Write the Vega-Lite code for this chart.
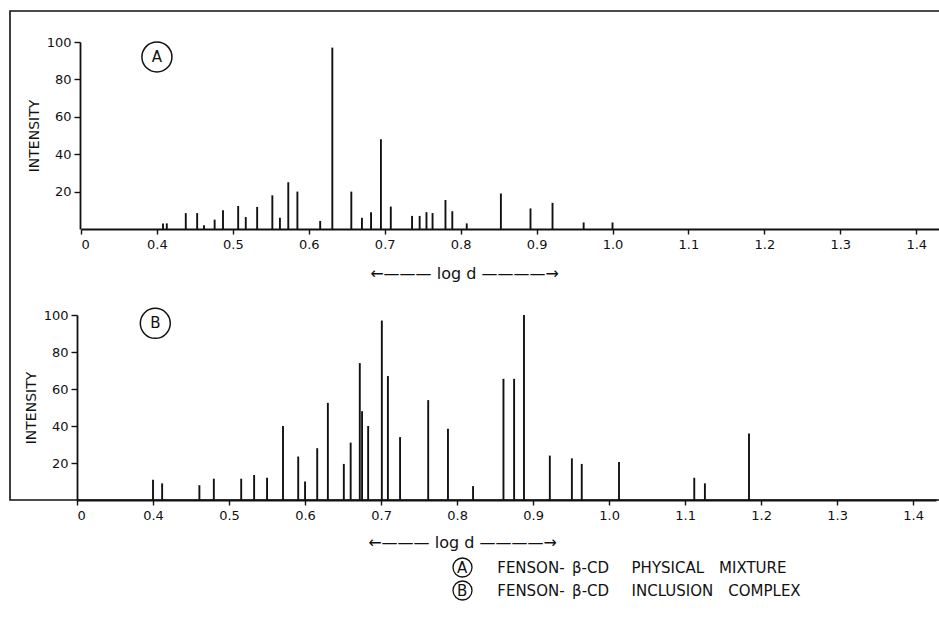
{
  "$schema": "https://vega.github.io/schema/vega-lite/v6.json",
  "width": 930,
  "height": 489,
  "autosize": {"type": "none"},
  "padding": {"left": 10, "top": 11, "right": -1, "bottom": 118},
  "background": "white",
  "config": {
    "view": {"stroke": "#111", "strokeWidth": 1.6},
    "font": "DejaVu Sans",
    "axis": {
      "grid": false,
      "domainColor": "#111",
      "domainWidth": 1.8,
      "tickColor": "#111",
      "tickWidth": 1.4,
      "labelColor": "#111",
      "titleColor": "#111",
      "labelFont": "DejaVu Sans",
      "titleFont": "DejaVu Sans",
      "titleFontWeight": "normal",
      "labelFontSize": 13,
      "titleFontSize": 14
    }
  },
  "datasets": {
    "A": [
      {"sample": "A", "logd": 0.408, "intensity": 3},
      {"sample": "A", "logd": 0.413, "intensity": 3},
      {"sample": "A", "logd": 0.438, "intensity": 8.5},
      {"sample": "A", "logd": 0.453, "intensity": 8.5},
      {"sample": "A", "logd": 0.462, "intensity": 2},
      {"sample": "A", "logd": 0.476, "intensity": 5},
      {"sample": "A", "logd": 0.487, "intensity": 10},
      {"sample": "A", "logd": 0.507, "intensity": 12.3},
      {"sample": "A", "logd": 0.517, "intensity": 6.4},
      {"sample": "A", "logd": 0.532, "intensity": 11.8},
      {"sample": "A", "logd": 0.552, "intensity": 18},
      {"sample": "A", "logd": 0.562, "intensity": 6},
      {"sample": "A", "logd": 0.573, "intensity": 25},
      {"sample": "A", "logd": 0.585, "intensity": 20},
      {"sample": "A", "logd": 0.615, "intensity": 4.3},
      {"sample": "A", "logd": 0.631, "intensity": 97},
      {"sample": "A", "logd": 0.656, "intensity": 20},
      {"sample": "A", "logd": 0.670, "intensity": 6},
      {"sample": "A", "logd": 0.682, "intensity": 9},
      {"sample": "A", "logd": 0.695, "intensity": 48},
      {"sample": "A", "logd": 0.708, "intensity": 12},
      {"sample": "A", "logd": 0.736, "intensity": 7},
      {"sample": "A", "logd": 0.746, "intensity": 7},
      {"sample": "A", "logd": 0.755, "intensity": 9},
      {"sample": "A", "logd": 0.763, "intensity": 8.5},
      {"sample": "A", "logd": 0.780, "intensity": 15.5},
      {"sample": "A", "logd": 0.789, "intensity": 9.5},
      {"sample": "A", "logd": 0.808, "intensity": 3},
      {"sample": "A", "logd": 0.853, "intensity": 19},
      {"sample": "A", "logd": 0.892, "intensity": 11},
      {"sample": "A", "logd": 0.921, "intensity": 14},
      {"sample": "A", "logd": 0.962, "intensity": 3.5},
      {"sample": "A", "logd": 1.000, "intensity": 3.5}
    ],
    "B": [
      {"sample": "B", "logd": 0.400, "intensity": 11},
      {"sample": "B", "logd": 0.412, "intensity": 9},
      {"sample": "B", "logd": 0.461, "intensity": 8},
      {"sample": "B", "logd": 0.480, "intensity": 11.5},
      {"sample": "B", "logd": 0.516, "intensity": 11.5},
      {"sample": "B", "logd": 0.533, "intensity": 13.5},
      {"sample": "B", "logd": 0.550, "intensity": 12},
      {"sample": "B", "logd": 0.571, "intensity": 40},
      {"sample": "B", "logd": 0.591, "intensity": 23.5},
      {"sample": "B", "logd": 0.600, "intensity": 10},
      {"sample": "B", "logd": 0.616, "intensity": 28},
      {"sample": "B", "logd": 0.630, "intensity": 52.5},
      {"sample": "B", "logd": 0.651, "intensity": 19.5},
      {"sample": "B", "logd": 0.660, "intensity": 31},
      {"sample": "B", "logd": 0.672, "intensity": 74},
      {"sample": "B", "logd": 0.675, "intensity": 48},
      {"sample": "B", "logd": 0.683, "intensity": 40},
      {"sample": "B", "logd": 0.701, "intensity": 97},
      {"sample": "B", "logd": 0.709, "intensity": 67},
      {"sample": "B", "logd": 0.725, "intensity": 34},
      {"sample": "B", "logd": 0.762, "intensity": 54},
      {"sample": "B", "logd": 0.788, "intensity": 38.5},
      {"sample": "B", "logd": 0.821, "intensity": 7.5},
      {"sample": "B", "logd": 0.861, "intensity": 65.5},
      {"sample": "B", "logd": 0.875, "intensity": 65.5},
      {"sample": "B", "logd": 0.888, "intensity": 100},
      {"sample": "B", "logd": 0.922, "intensity": 24},
      {"sample": "B", "logd": 0.951, "intensity": 22.5},
      {"sample": "B", "logd": 0.964, "intensity": 19.5},
      {"sample": "B", "logd": 1.013, "intensity": 20.5},
      {"sample": "B", "logd": 1.112, "intensity": 12},
      {"sample": "B", "logd": 1.126, "intensity": 9},
      {"sample": "B", "logd": 1.184, "intensity": 36}
    ]
  },
  "resolve": {
    "scale": {"x": "independent", "y": "independent"},
    "axis": {"x": "independent", "y": "independent"}
  },
  "layer": [
    {
      "layer": [
        {
          "data": {"name": "A"},
          "mark": {"type": "rule", "strokeWidth": 1.9},
          "encoding": {
            "x": {
              "field": "logd",
              "type": "quantitative",
              "scale": {"domain": [0.30, 1.43], "range": [71, 929], "zero": false, "nice": false},
              "axis": {
                "orient": "bottom",
                "offset": -271,
                "values": [0.3, 0.4, 0.5, 0.6, 0.7, 0.8, 0.9, 1.0, 1.1, 1.2, 1.3, 1.4],
                "labelExpr": "datum.value < 0.35 ? '0' : format(datum.value, '.1f')",
                "tickSize": 5,
                "labelPadding": 4,
                "title": "←——— log d ————→",
                "titleFontSize": 16,
                "titleX": 454,
                "titleY": 44,
                "titleAlign": "center",
                "titleBaseline": "middle"
              }
            },
            "y": {
              "field": "intensity",
              "type": "quantitative",
              "scale": {"domain": [0, 100], "range": [218, 31], "nice": false},
              "axis": {
                "orient": "left",
                "offset": -70,
                "values": [20, 40, 60, 80, 100],
                "title": "INTENSITY",
                "tickSize": 6,
                "labelPadding": 3,
                "titlePadding": 5
              }
            },
            "y2": {"datum": 0},
            "color": {
              "field": "sample",
              "type": "nominal",
              "scale": {"domain": ["A", "B"], "range": ["#111", "#111"]},
              "legend": {
                "orient": "none",
                "legendX": 442,
                "legendY": 546,
                "direction": "vertical",
                "title": null,
                "symbolType": "circle",
                "symbolSize": 361,
                "symbolStrokeWidth": 1.3,
                "symbolFillColor": "white",
                "symbolStrokeColor": "#111",
                "labelExpr": "datum.value == 'A' ? 'A\u2003\u2003FENSON-\u2002β-CD\u2003\u2002PHYSICAL\u2003MIXTURE' : 'B\u2003\u2003FENSON-\u2002β-CD\u2003\u2002INCLUSION\u2003COMPLEX'",
                "labelOffset": -16,
                "labelFontSize": 15,
                "labelFont": "DejaVu Sans",
                "labelColor": "#111",
                "labelLimit": 0,
                "rowPadding": -4
              }
            }
          }
        },
        {
          "data": {"values": [{"panel": "A"}]},
          "mark": {"type": "point", "shape": "circle", "filled": false, "size": 900, "stroke": "#111", "strokeWidth": 1.5, "opacity": 1},
          "encoding": {
            "x": {"datum": 0.40, "type": "quantitative"},
            "y": {"datum": 92, "type": "quantitative"}
          }
        },
        {
          "data": {"values": [{"panel": "A"}]},
          "mark": {"type": "text", "fontSize": 15, "font": "DejaVu Sans", "color": "#111", "align": "center", "baseline": "middle"},
          "encoding": {
            "x": {"datum": 0.40, "type": "quantitative"},
            "y": {"datum": 92, "type": "quantitative"},
            "text": {"field": "panel"}
          }
        }
      ]
    },
    {
      "layer": [
        {
          "data": {"name": "B"},
          "mark": {"type": "rule", "strokeWidth": 1.9, "color": "#111"},
          "encoding": {
            "x": {
              "field": "logd",
              "type": "quantitative",
              "scale": {"domain": [0.30, 1.43], "range": [67, 926], "zero": false, "nice": false},
              "axis": {
                "orient": "bottom",
                "offset": 0,
                "values": [0.3, 0.4, 0.5, 0.6, 0.7, 0.8, 0.9, 1.0, 1.1, 1.2, 1.3, 1.4],
                "labelExpr": "datum.value < 0.35 ? '0' : format(datum.value, '.1f')",
                "tickSize": 5,
                "labelPadding": 4,
                "title": "←——— log d ————→",
                "titleFontSize": 16,
                "titleX": 452,
                "titleY": 42,
                "titleAlign": "center",
                "titleBaseline": "middle"
              }
            },
            "y": {
              "field": "intensity",
              "type": "quantitative",
              "scale": {"domain": [0, 100], "range": [489, 304], "nice": false},
              "axis": {
                "orient": "left",
                "offset": -67,
                "values": [20, 40, 60, 80, 100],
                "title": "INTENSITY",
                "tickSize": 6,
                "labelPadding": 3,
                "titlePadding": 5
              }
            },
            "y2": {"datum": 0}
          }
        },
        {
          "data": {"values": [{"panel": "B"}]},
          "mark": {"type": "point", "shape": "circle", "filled": false, "size": 900, "stroke": "#111", "strokeWidth": 1.5, "opacity": 1},
          "encoding": {
            "x": {"datum": 0.403, "type": "quantitative"},
            "y": {"datum": 95.5, "type": "quantitative"}
          }
        },
        {
          "data": {"values": [{"panel": "B"}]},
          "mark": {"type": "text", "fontSize": 15, "font": "DejaVu Sans", "color": "#111", "align": "center", "baseline": "middle"},
          "encoding": {
            "x": {"datum": 0.403, "type": "quantitative"},
            "y": {"datum": 95.5, "type": "quantitative"},
            "text": {"field": "panel"}
          }
        }
      ]
    }
  ]
}
